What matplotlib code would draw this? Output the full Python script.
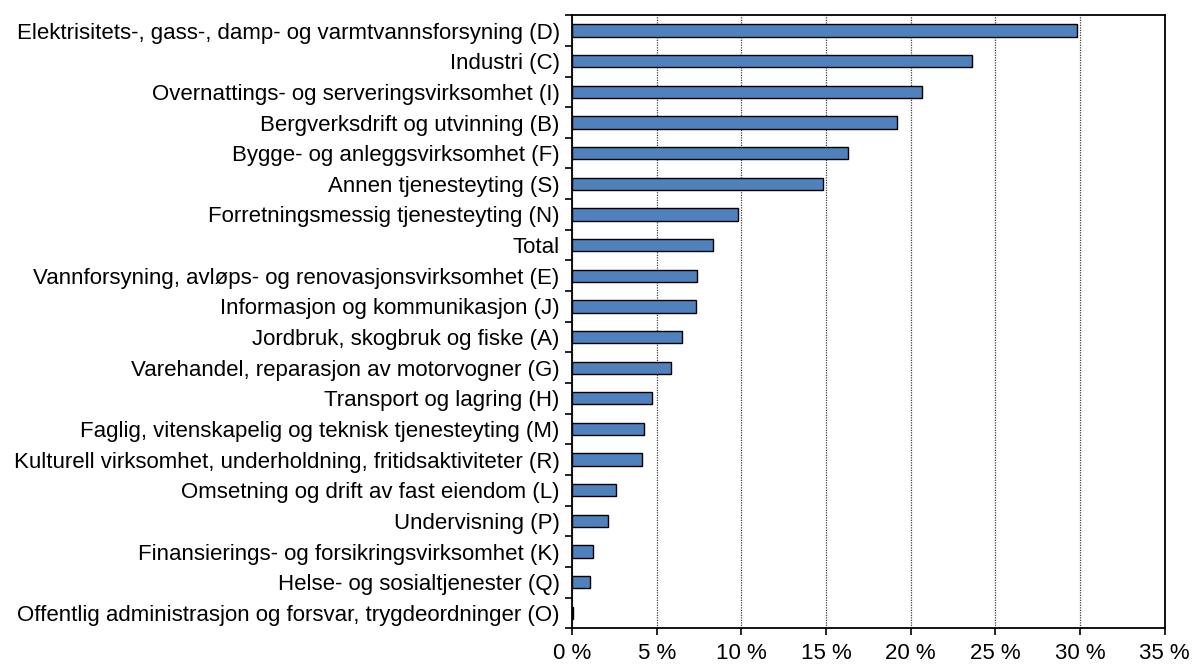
import numpy as np
import matplotlib as mpl
mpl.use("Agg")
import matplotlib.pyplot as plt
from matplotlib.ticker import FuncFormatter, FixedLocator

mpl.rcParams["font.family"] = ["Liberation Sans", "DejaVu Sans"]
mpl.rcParams["font.size"] = 16

categories = [
    "Elektrisitets-, gass-, damp- og varmtvannsforsyning (D)",
    "Industri (C)",
    "Overnattings- og serveringsvirksomhet (I)",
    "Bergverksdrift og utvinning (B)",
    "Bygge- og anleggsvirksomhet (F)",
    "Annen tjenesteyting (S)",
    "Forretningsmessig tjenesteyting (N)",
    "Total",
    "Vannforsyning, avløps- og renovasjonsvirksomhet (E)",
    "Informasjon og kommunikasjon (J)",
    "Jordbruk, skogbruk og fiske (A)",
    "Varehandel, reparasjon av motorvogner (G)",
    "Transport og lagring (H)",
    "Faglig, vitenskapelig og teknisk tjenesteyting (M)",
    "Kulturell virksomhet, underholdning, fritidsaktiviteter (R)",
    "Omsetning og drift av fast eiendom (L)",
    "Undervisning (P)",
    "Finansierings- og forsikringsvirksomhet (K)",
    "Helse- og sosialtjenester (Q)",
    "Offentlig administrasjon og forsvar, trygdeordninger (O)",
]
values = [29.8, 23.6, 20.65, 19.2, 16.3, 14.8, 9.8, 8.3, 7.4, 7.3,
          6.5, 5.85, 4.7, 4.23, 4.13, 2.6, 2.13, 1.24, 1.06, 0.05]

fig = plt.figure(figsize=(11.92, 6.64), dpi=100)
ax = fig.add_axes([0.48, 0.054, 0.497, 0.923])

y = np.arange(len(categories))
ax.barh(y, values, height=0.4, color="#4F81BD", edgecolor="black",
        linewidth=1.0, zorder=3)

ax.set_xlim(0, 35)
ax.set_ylim(len(categories) - 0.5, -0.5)
ax.set_xticks(np.arange(0, 36, 5))
ax.xaxis.set_major_formatter(FuncFormatter(lambda v, p: f"{v:.0f} %"))

ax.set_yticks(y)
ax.set_yticklabels(categories)
ax.yaxis.set_minor_locator(FixedLocator(np.arange(-0.5, len(categories), 1)))
ax.tick_params(axis="y", which="major", length=0, pad=9)
ax.tick_params(axis="y", which="minor", length=5, width=1.2, direction="out")
ax.tick_params(axis="x", length=5, width=1.2, direction="out", pad=6)

ax.grid(axis="x", linestyle=(0, (1, 1)), color="#404040", linewidth=0.9, zorder=0)
for s in ax.spines.values():
    s.set_linewidth(1.3)

fig.savefig("out.png", dpi=100)
